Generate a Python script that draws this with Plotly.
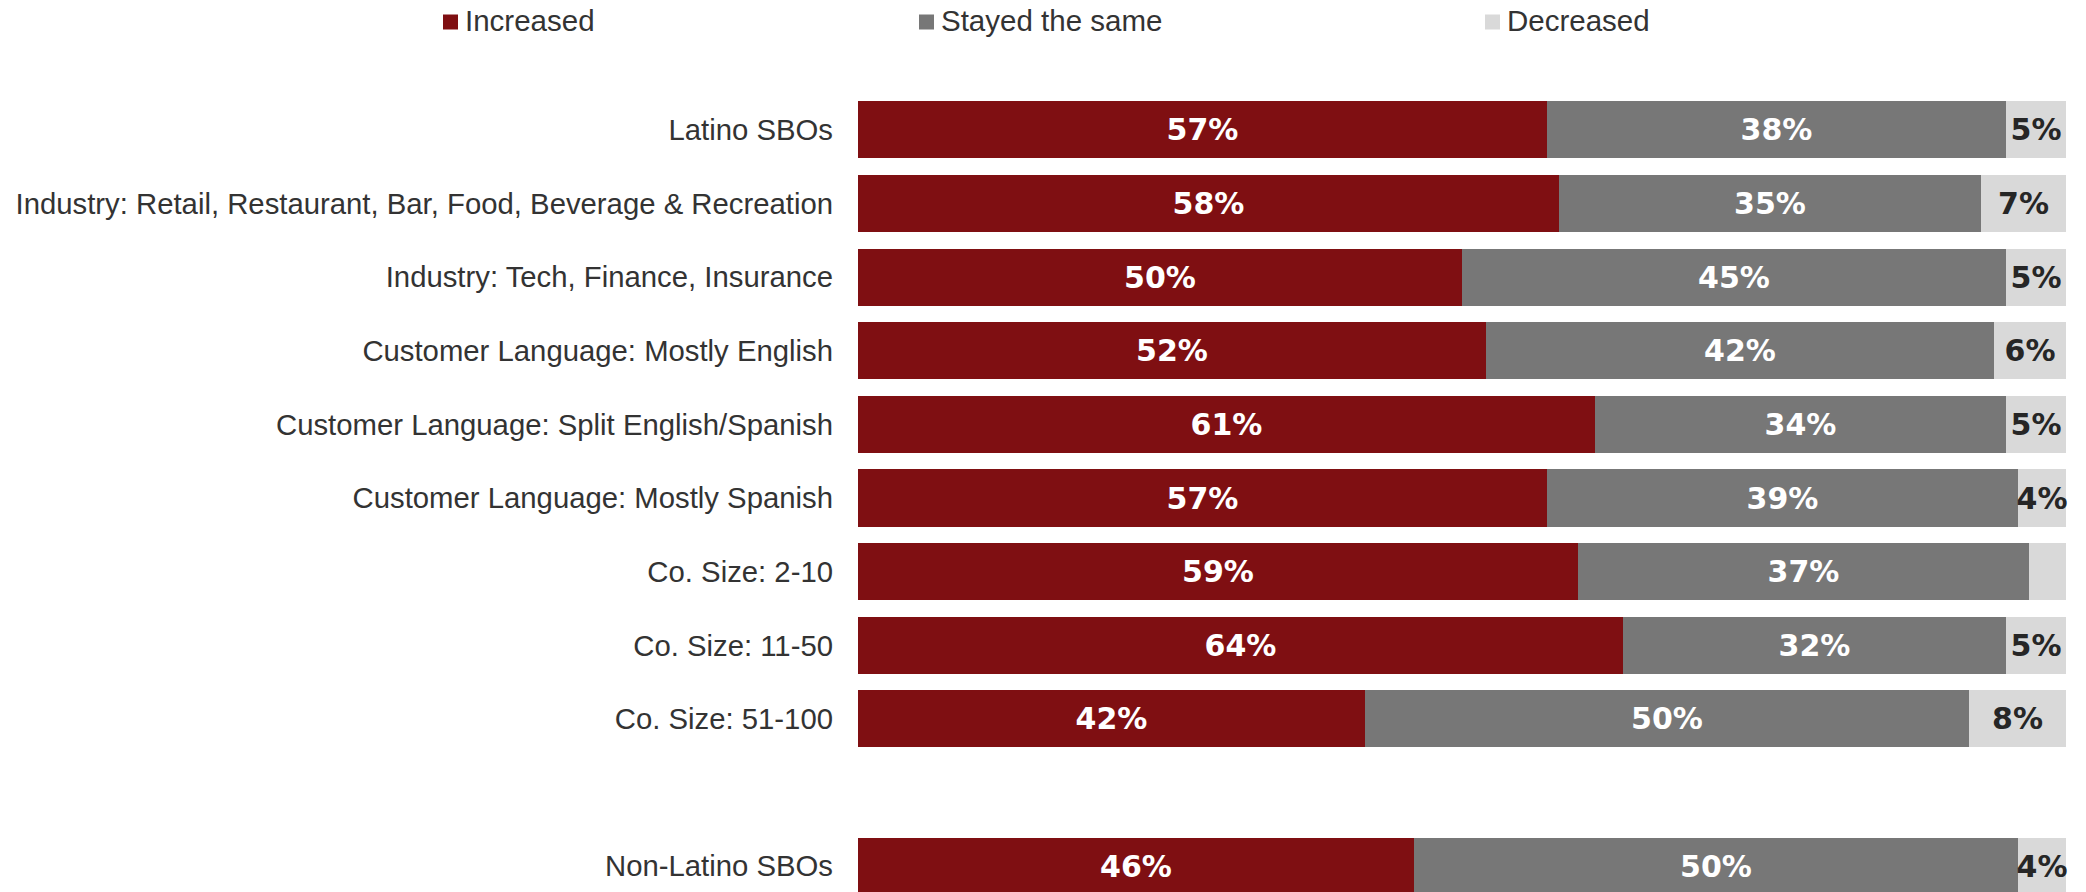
import plotly.graph_objects as go

# Survey groups (top to bottom); the blank slot separates the comparison group
groups = [
    "Latino SBOs",
    "Industry: Retail, Restaurant, Bar, Food, Beverage & Recreation",
    "Industry: Tech, Finance, Insurance",
    "Customer Language: Mostly English",
    "Customer Language: Split English/Spanish",
    "Customer Language: Mostly Spanish",
    "Co. Size: 2-10",
    "Co. Size: 11-50",
    "Co. Size: 51-100",
    "Non-Latino SBOs",
]
row_pos = [0, 1, 2, 3, 4, 5, 6, 7, 8, 10]

increased = [57, 58, 50, 52, 61, 57, 59, 64, 42, 46]
stayed = [38, 35, 45, 42, 34, 39, 37, 32, 50, 50]
decreased = [5, 7, 5, 6, 5, 4, 3, 5, 8, 4]
decreased_shown = [True, True, True, True, True, True, False, True, True, True]

series = ["Increased", "Stayed the same", "Decreased"]
colors = ["#7f0f12", "#777777", "#d9d9d9"]
label_colors = ["#ffffff", "#ffffff", "#262626"]

W, H = 2086, 892
M_L, M_R, M_T, M_B = 858, 20, 93, 0
PW, PH = W - M_L - M_R, H - M_T - M_B

fig = go.Figure()
for name, vals, col, lcol in zip(series, [increased, stayed, decreased], colors, label_colors):
    if name == "Decreased":
        texts = [f"{v}%" if s else "" for v, s in zip(vals, decreased_shown)]
    else:
        texts = [f"{v}%" for v in vals]
    fig.add_trace(go.Bar(
        name=name,
        y=row_pos,
        x=vals,
        orientation="h",
        width=0.775,
        marker=dict(color=col, line=dict(width=0)),
        text=texts,
        textposition="inside",
        insidetextanchor="middle",
        textangle=0,
        constraintext="none",
        cliponaxis=False,
        textfont=dict(family="DejaVu Sans", size=30, color=lcol, weight="bold"),
        showlegend=False,
        hoverinfo="skip",
    ))

fig.update_layout(
    barmode="stack",
    barnorm="percent",
    width=W,
    height=H,
    margin=dict(l=M_L, r=M_R, t=M_T, b=M_B),
    paper_bgcolor="white",
    plot_bgcolor="white",
    bargap=0,
    xaxis=dict(range=[0, 100], visible=False, fixedrange=True),
    yaxis=dict(
        range=[10.35, -0.5],
        tickvals=row_pos,
        ticktext=groups,
        showgrid=False,
        zeroline=False,
        showline=False,
        ticks="",
        ticklabelstandoff=24,
        tickfont=dict(family="Liberation Sans, Arial", size=29.3, color="#333333"),
    ),
)

# Legend row: colour square plus label, placed in pixel terms
legend_items = [(443, "Increased"), (919, "Stayed the same"), (1485, "Decreased")]
legend_y_px = 22
sq = 15


def px_x(px):
    return (px - M_L) / PW


def px_y(py):
    return (H - M_B - py) / PH


for (x0, label), col in zip(legend_items, colors):
    fig.add_shape(
        type="rect", xref="paper", yref="paper",
        x0=px_x(x0), x1=px_x(x0 + sq),
        y0=px_y(legend_y_px + sq / 2), y1=px_y(legend_y_px - sq / 2),
        fillcolor=col, line=dict(width=0),
    )
    fig.add_annotation(
        xref="paper", yref="paper",
        x=px_x(x0 + sq + 5), y=px_y(legend_y_px - 1),
        xanchor="left", yanchor="middle",
        text=label, showarrow=False,
        font=dict(family="Liberation Sans, Arial", size=29.5, color="#333333"),
    )

fig.write_html("out.html")
